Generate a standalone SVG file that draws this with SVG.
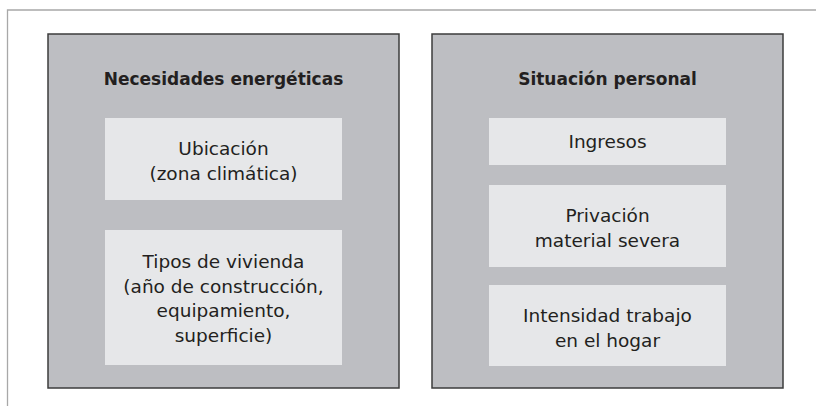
<svg xmlns="http://www.w3.org/2000/svg" width="816" height="406" viewBox="0 0 816 406">
<style>
.frame{fill:none;stroke:#a8a8a8;stroke-width:1.3}
.panel{fill:#bdbec2;stroke:#3c3c3c;stroke-width:1.5}
.item{fill:#e6e7e9}
text{font-family:"DejaVu Sans",Verdana,sans-serif;fill:#231f20;text-anchor:middle}
.t{font-size:17px;font-weight:bold}
.l{font-size:18.5px}
</style>
<polyline class="frame" points="816,10 7.5,10 7.5,406"/>
<g id="necesidades">
<rect class="panel" x="48" y="34" width="351" height="354"/>
<text class="t" x="223.5" y="85">Necesidades energéticas</text>
</g>
<g id="ubicacion">
<rect class="item" x="105" y="118" width="237" height="82"/>
<text class="l" x="223.5" y="155">Ubicación</text>
<text class="l" x="223.5" y="180">(zona climática)</text>
</g>
<g id="tipos">
<rect class="item" x="105" y="230" width="237" height="135"/>
<text class="l" x="223.5" y="268">Tipos de vivienda</text>
<text class="l" x="223.5" y="293">(año de construcción,</text>
<text class="l" x="223.5" y="317">equipamiento,</text>
<text class="l" x="223.5" y="342">superficie)</text>
</g>
<g id="situacion">
<rect class="panel" x="432" y="34" width="351" height="354"/>
<text class="t" x="607.5" y="85">Situación personal</text>
</g>
<g id="ingresos">
<rect class="item" x="489" y="118" width="237" height="47"/>
<text class="l" x="607.5" y="148">Ingresos</text>
</g>
<g id="privacion">
<rect class="item" x="489" y="185" width="237" height="82"/>
<text class="l" x="607.5" y="222">Privación</text>
<text class="l" x="607.5" y="247">material severa</text>
</g>
<g id="intensidad">
<rect class="item" x="489" y="285" width="237" height="81"/>
<text class="l" x="607.5" y="322">Intensidad trabajo</text>
<text class="l" x="607.5" y="347">en el hogar</text>
</g>
<g id="connectors"/>
</svg>
